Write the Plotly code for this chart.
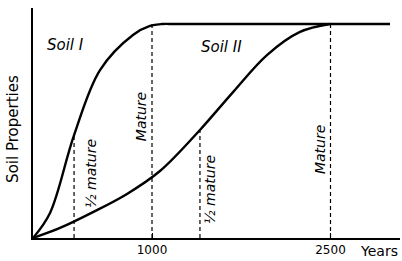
import plotly.graph_objects as go

# Soil development curves (years, % of mature property level)
soil1_years = [0, 143, 345, 563, 840, 983, 1084, 1200, 3000]
soil1_level = [0, 11.7, 48.1, 78.5, 94.9, 99.1, 100, 100, 100]
soil2_years = [0, 227, 504, 790, 1067, 1403, 1681, 1966, 2244, 2496]
soil2_level = [0, 4.7, 12.1, 20.6, 31.3, 50.5, 68.2, 85.5, 96.3, 100]

# Stage markers: dashed verticals from the time axis up to the curve
marker_years = [345, 1000, 1403, 2500]
marker_levels = [48.1, 100, 50.5, 100]
marker_labels = ["½ mature", "Mature", "½ mature", "Mature"]
label_years = [487, 908, 1487, 2412]
label_levels = [30.4, 56.5, 22.9, 41.1]

curve_labels = ["Soil I", "Soil II"]
curve_label_years = [277, 1588]
curve_label_levels = [90.2, 89.3]

tick_vals = [1000, 2500]
tick_text = ["1000", "2500"]

font_fam = "DejaVu Sans, sans-serif"

fig = go.Figure()
for xs, ys in [(soil1_years, soil1_level), (soil2_years, soil2_level)]:
    fig.add_trace(go.Scatter(x=xs, y=ys, mode="lines",
                             line=dict(color="black", width=2.4, shape="spline", smoothing=1.0),
                             hoverinfo="skip", showlegend=False))

for xv, yv in zip(marker_years, marker_levels):
    fig.add_trace(go.Scatter(x=[xv, xv], y=[0, yv], mode="lines",
                             line=dict(color="black", width=1.2, dash="4px,3px"),
                             hoverinfo="skip", showlegend=False))

for lx, ly, lab in zip(label_years, label_levels, marker_labels):
    fig.add_annotation(x=lx, y=ly, text="<i>" + lab + "</i>", showarrow=False, textangle=-90,
                       font=dict(family=font_fam, size=14, color="black"))

for lab, lx, ly in zip(curve_labels, curve_label_years, curve_label_levels):
    fig.add_annotation(x=lx, y=ly, text="<i>" + lab + "</i>", showarrow=False,
                       font=dict(family=font_fam, size=15, color="black"))

fig.add_annotation(x=0, y=51, xref="paper", yref="y", xanchor="right", xshift=-9,
                   text="Soil Properties", textangle=-90, showarrow=False,
                   font=dict(family=font_fam, size=15, color="black"))
fig.add_annotation(x=1.0, y=0, xref="paper", yref="paper", yanchor="top", xanchor="right",
                   yshift=-3, text="Years", showarrow=False,
                   font=dict(family=font_fam, size=14, color="black"))

fig.update_layout(
    width=402, height=261,
    margin=dict(l=33, r=2, t=8, b=23),
    plot_bgcolor="white", paper_bgcolor="white",
    xaxis=dict(range=[0, 3084], showgrid=False, zeroline=False, showline=True,
               linecolor="black", linewidth=2, tickvals=tick_vals, ticktext=tick_text,
               ticks="inside", ticklen=5, tickcolor="black", automargin=False,
               tickfont=dict(family=font_fam, size=12, color="black")),
    yaxis=dict(range=[0, 107.5], showgrid=False, zeroline=False, showline=True,
               linecolor="black", linewidth=2, showticklabels=False, ticks="",
               automargin=False),
)

fig.write_html("out.html", config={"displayModeBar": False},
               post_script="document.body.style.margin='0px';")
